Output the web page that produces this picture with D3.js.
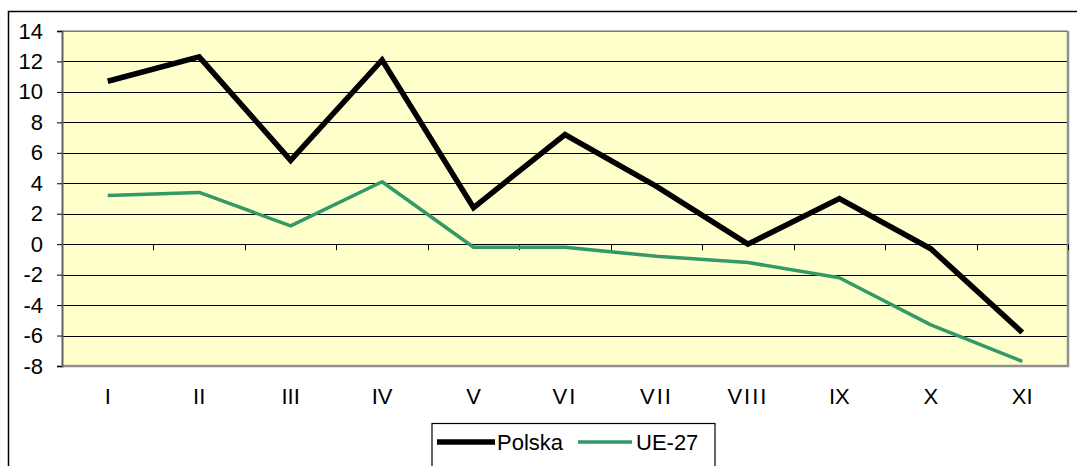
<!DOCTYPE html>
<html>
<head>
<meta charset="utf-8">
<script src="https://cdn.jsdelivr.net/npm/d3@7"></script>
<style>
  body { margin: 0; background: #fff; }
  text { font-family: "Liberation Sans", Arial, sans-serif; }
</style>
</head>
<body>
<svg width="1077" height="466"></svg>
<script>
// Months (Roman numerals) and the two series
const months = ["I", "II", "III", "IV", "V", "VI", "VII", "VIII", "IX", "X", "XI"];
const polska = [10.7, 12.3, 5.5, 12.1, 2.4, 7.2, 3.8, 0.0, 3.0, -0.3, -5.8];
const ue27 = [3.2, 3.4, 1.2, 4.1, -0.2, -0.2, -0.8, -1.2, -2.2, -5.3, -7.7];
const yTicks = [14, 12, 10, 8, 6, 4, 2, 0, -2, -4, -6, -8];

const svg = d3.select("svg");

// outer chart frame (runs off the right and bottom of the picture)
svg.append("rect")
    .attr("x", 8.5).attr("y", 11.5)
    .attr("width", 1100).attr("height", 500)
    .attr("fill", "none").attr("stroke", "#000").attr("stroke-width", 1.5);

const plot = {left: 62, top: 31, right: 1068, bottom: 366};

const x = d3.scaleBand()
    .domain(months)
    .range([plot.left, plot.right]);

const y = d3.scaleLinear()
    .domain([-8, 14])
    .range([plot.bottom, plot.top]);

// plot background
svg.append("rect")
    .attr("x", plot.left).attr("y", plot.top)
    .attr("width", plot.right - plot.left).attr("height", plot.bottom - plot.top)
    .attr("fill", "#ffffcc");

// gridlines
svg.append("g")
  .selectAll("line")
  .data(yTicks)
  .enter().append("line")
    .attr("x1", plot.left).attr("x2", plot.right)
    .attr("y1", d => Math.round(y(d)) + 0.5)
    .attr("y2", d => Math.round(y(d)) + 0.5)
    .attr("stroke", "#000").attr("stroke-width", 1);

// plot border: grey shadow on right / bottom, lighter on top
svg.append("path")
    .attr("d", `M${plot.left},${plot.top}H${plot.right}`)
    .attr("stroke", "#a0a0a0").attr("stroke-width", 1.5);
svg.append("path")
    .attr("d", `M${plot.right},${plot.top}V${plot.bottom}H${plot.left}`)
    .attr("fill", "none")
    .attr("stroke", "#909090").attr("stroke-width", 2.5);

// y axis (plain hyphen for negatives, like the original)
const yAxis = svg.append("g")
    .attr("transform", `translate(${plot.left},0)`)
    .call(d3.axisLeft(y).tickValues(yTicks).tickSize(5).tickPadding(14)
      .tickFormat(d => String(d)));
yAxis.select(".domain").attr("stroke", "#606060").attr("stroke-width", 2);
yAxis.selectAll("text")
    .attr("font-size", "22px")
    .attr("fill", "#000")
    .style("font-family", "'Liberation Sans', Arial, sans-serif");

// category ticks along the zero line
const bounds = months.slice(1).map(m => x(m)).concat([plot.right]);
svg.append("g")
  .selectAll("line")
  .data(bounds)
  .enter().append("line")
    .attr("x1", d => Math.round(d) + 0.5).attr("x2", d => Math.round(d) + 0.5)
    .attr("y1", y(0)).attr("y2", y(0) + 6)
    .attr("stroke", "#000");

// x labels
svg.append("g")
  .selectAll("text")
  .data(months)
  .enter().append("text")
    .attr("x", d => x(d) + x.bandwidth() / 2)
    .attr("y", 404)
    .attr("text-anchor", "middle")
    .attr("font-size", "22px")
    .attr("letter-spacing", d => d.startsWith("V") && d.length > 1 ? "2px" : "0px")
    .text(d => d);

const line = d3.line()
    .x((d, i) => x(months[i]) + x.bandwidth() / 2)
    .y(d => y(d));

svg.append("path")
    .datum(ue27)
    .attr("fill", "none")
    .attr("stroke", "#339966")
    .attr("stroke-width", 3.5)
    .attr("stroke-linejoin", "round")
    .attr("d", line);

svg.append("path")
    .datum(polska)
    .attr("fill", "none")
    .attr("stroke", "#000")
    .attr("stroke-width", 5.5)
    .attr("stroke-linejoin", "miter")
    .attr("d", line);

// legend
const legend = svg.append("g");
legend.append("rect")
    .attr("x", 432).attr("y", 423.5)
    .attr("width", 283).attr("height", 60)
    .attr("fill", "#fff").attr("stroke", "#000").attr("stroke-width", 1.2);

const legendItems = [
  {name: "Polska", color: "#000", width: 5.5, x1: 437, x2: 495, tx: 497},
  {name: "UE-27", color: "#339966", width: 3.5, x1: 578, x2: 632, tx: 636}
];
legendItems.forEach(d => {
  legend.append("line")
      .attr("x1", d.x1).attr("x2", d.x2)
      .attr("y1", 442).attr("y2", 442)
      .attr("stroke", d.color).attr("stroke-width", d.width);
  legend.append("text")
      .attr("x", d.tx).attr("y", 449.5)
      .attr("font-size", "22px")
      .text(d.name);
});
</script>
</body>
</html>
